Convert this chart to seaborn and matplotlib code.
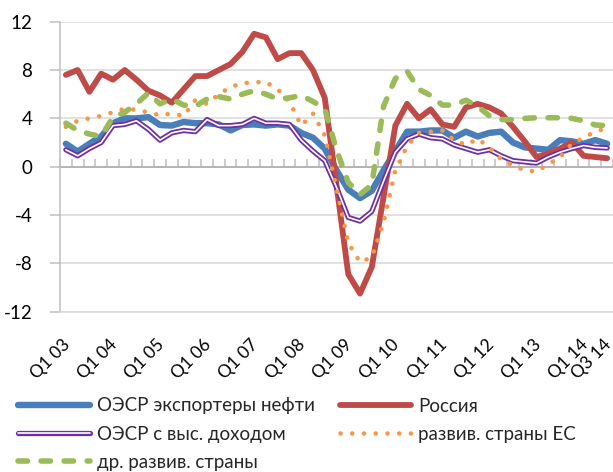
import numpy as np
import pandas as pd
import matplotlib
matplotlib.use("Agg")
import matplotlib.pyplot as plt
import matplotlib.patheffects as pe
from matplotlib.transforms import ScaledTranslation
import seaborn as sns

# ---- data ----
years = ["03", "04", "05", "06", "07", "08", "09", "10", "11", "12", "13", "14"]
quarters = [f"Q{q} {y}" for y in years for q in (1, 2, 3, 4)][:47]

oil_exporters = [1.9, 1.25, 1.9, 2.5, 3.6, 4.0, 4.0, 4.1, 3.45, 3.4,
                 3.7, 3.6, 3.6, 3.5, 3.0, 3.45, 3.5, 3.4, 3.5, 3.4,
                 2.8, 2.4, 1.5, -0.3, -1.9, -2.6, -2.0, -0.3, 1.3, 2.9,
                 2.9, 3.0, 3.0, 2.4, 2.9, 2.5, 2.8, 2.9, 2.0, 1.6,
                 1.5, 1.4, 2.2, 2.1, 1.9, 2.2, 1.9]
russia = [7.6, 8.0, 6.2, 7.7, 7.2, 8.0, 7.2, 6.3, 5.9, 5.3,
          6.4, 7.5, 7.5, 8.0, 8.5, 9.5, 11.0, 10.7, 8.9, 9.4,
          9.4, 8.0, 5.7, -1.5, -8.9, -10.5, -8.3, -2.5, 3.4, 5.2,
          4.0, 4.75, 3.5, 3.3, 4.9, 5.2, 4.9, 4.4, 3.3, 2.1,
          0.8, 1.1, 1.5, 2.0, 0.9, 0.8, 0.7]
oecd_high = [1.4, 0.9, 1.5, 2.0, 3.4, 3.5, 3.8, 3.1, 2.2, 2.8,
             3.0, 2.9, 3.9, 3.4, 3.4, 3.5, 4.0, 3.6, 3.6, 3.5,
             2.2, 1.3, 0.5, -1.7, -4.2, -4.5, -3.7, -1.2, 1.2, 2.3,
             2.7, 2.4, 2.3, 1.8, 1.5, 1.2, 1.4, 0.9, 0.5, 0.4,
             0.3, 0.8, 1.2, 1.5, 1.75, 1.6, 1.55]
eu_developed = [3.3, 3.8, 4.0, 4.2, 4.5, 4.8, 4.7, 4.5, 4.25, 4.4,
                4.2, 5.5, 5.2, 6.0, 6.6, 6.9, 7.0, 7.0, 6.4, 5.4,
                3.4, 4.4, 2.6, -1.8, -6.3, -7.9, -7.5, -4.6, -0.3, 1.7,
                2.8, 2.9, 3.0, 2.2, 1.8, 2.3, 1.6, 0.6, 0.1, -0.3,
                -0.4, 0.2, 0.8, 1.9, 2.4, 2.9, 3.2]
other_developed = [3.6, 3.0, 2.7, 2.5, 4.1, 4.5, 5.2, 6.1, 5.2, 5.6,
                   5.1, 5.0, 5.6, 5.8, 5.6, 6.0, 6.3, 6.0, 5.6, 5.7,
                   5.9, 5.4, 4.8, 1.4, -1.3, -2.3, -1.5, 5.0, 7.3, 7.9,
                   6.4, 5.9, 5.1, 5.1, 5.5, 5.0, 4.2, 3.9, 3.9, 4.0,
                   4.05, 4.05, 4.05, 4.0, 3.8, 3.45, 3.4]

tick_labels = ["Q1 03", "Q1 04", "Q1 05", "Q1 06", "Q1 07", "Q1 08", "Q1 09",
               "Q1 10", "Q1 11", "Q1 12", "Q1 13", "Q1 14", "Q3 14"]

names = ["ОЭСР экспортеры нефти", "Россия", "ОЭСР с выс. доходом",
         "развив. страны ЕС", "др. развив. страны"]

df = pd.DataFrame({"q": quarters, "pos": np.arange(len(quarters)),
                   names[0]: oil_exporters, names[1]: russia,
                   names[2]: oecd_high, names[3]: eu_developed,
                   names[4]: other_developed})

# ---- style ----
sns.set_theme(style="white")
plt.rcParams["font.family"] = ["Lato", "DejaVu Sans"]

BLUE = "#4A7EBB"
RED = "#BE4B48"
PURPLE = "#7030A0"
ORANGE = "#F79646"
GREEN = "#9BBB59"
GRID = "#D9D9D9"
AXIS = "#BFBFBF"

fig = plt.figure(figsize=(6.13, 4.72), dpi=100)
ax = fig.add_axes([60 / 613, 1 - 311.7 / 472, 1 - 60 / 613, (311.7 - 21.7) / 472])

sns.lineplot(data=df, x="pos", y=names[0], ax=ax, color=BLUE, lw=4.6,
             label=names[0], solid_capstyle="round", solid_joinstyle="round")
sns.lineplot(data=df, x="pos", y=names[1], ax=ax, color=RED, lw=4.2,
             label=names[1], solid_capstyle="round", solid_joinstyle="round")
sns.lineplot(data=df, x="pos", y=names[2], ax=ax, color="white", lw=1.2,
             label=names[2],
             path_effects=[pe.Stroke(linewidth=3.8, foreground=PURPLE), pe.Normal()])
sns.lineplot(data=df, x="pos", y=names[3], ax=ax, color=ORANGE, lw=3.3,
             label=names[3], linestyle=(0, (0.01, 2.55)), dash_capstyle="round")
sns.lineplot(data=df, x="pos", y=names[4], ax=ax, color=GREEN, lw=4.0,
             label=names[4], linestyle=(0, (1.7, 2.45)), dash_capstyle="round")

if ax.get_legend() is not None:
    ax.get_legend().remove()

ax.set_xlim(-0.5, len(quarters) - 0.5)
ax.set_ylim(-12, 12)
ax.set_yticks([-12, -8, -4, 0, 4, 8, 12])
ax.set_yticklabels(["-12", "-8", "-4", "0", "4", "8", "12"])
ax.yaxis.grid(True, color=GRID, lw=1.1)
ax.xaxis.grid(False)
ax.set_xlabel("")
ax.set_ylabel("")

for s in ("top", "right"):
    ax.spines[s].set_visible(False)
ax.spines["left"].set_color(AXIS)
ax.spines["bottom"].set_color(GRID)
ax.spines["left"].set_linewidth(1.1)
ax.spines["bottom"].set_linewidth(1.1)

ax.tick_params(axis="y", direction="out", length=7, width=1.1, color=AXIS,
               pad=13, labelsize=13.5, labelcolor="black", left=True)

label_pos = [quarters.index(t) for t in tick_labels]
ax.set_xticks(label_pos)
ax.set_xticklabels(tick_labels, rotation=45, ha="right", va="top",
                   rotation_mode="anchor")
ax.tick_params(axis="x", length=0, pad=17.5, labelsize=12.5, labelcolor="black",
               bottom=True)
for lbl in ax.get_xticklabels():
    lbl.set_transform(lbl.get_transform() + ScaledTranslation(-4 / 100, 0, fig.dpi_scale_trans))

# category axis line at zero with tick marks between categories
sec = ax.secondary_xaxis(0.5)
bounds = np.arange(len(quarters) + 1) - 0.5
sec.set_xticks(bounds, labels=[""] * len(bounds))
sec.tick_params(axis="x", direction="out", length=6, width=1.1, color=AXIS,
                labelbottom=False, labelsize=1)
sec.spines["bottom"].set_color(AXIS)
sec.spines["bottom"].set_linewidth(1.1)

handles, labels = ax.get_legend_handles_labels()
order = [0, 2, 4, 1, 3]
fig.legend([handles[i] for i in order], [labels[i] for i in order],
           loc="upper left", bbox_to_anchor=(0.03, 1 - 397.5 / 472), ncol=2,
           frameon=False, fontsize=13.5, handlelength=3.8, handletextpad=0.4,
           columnspacing=1.3, labelspacing=0.6, borderpad=0, borderaxespad=0)

fig.savefig("out.png", dpi=100)
